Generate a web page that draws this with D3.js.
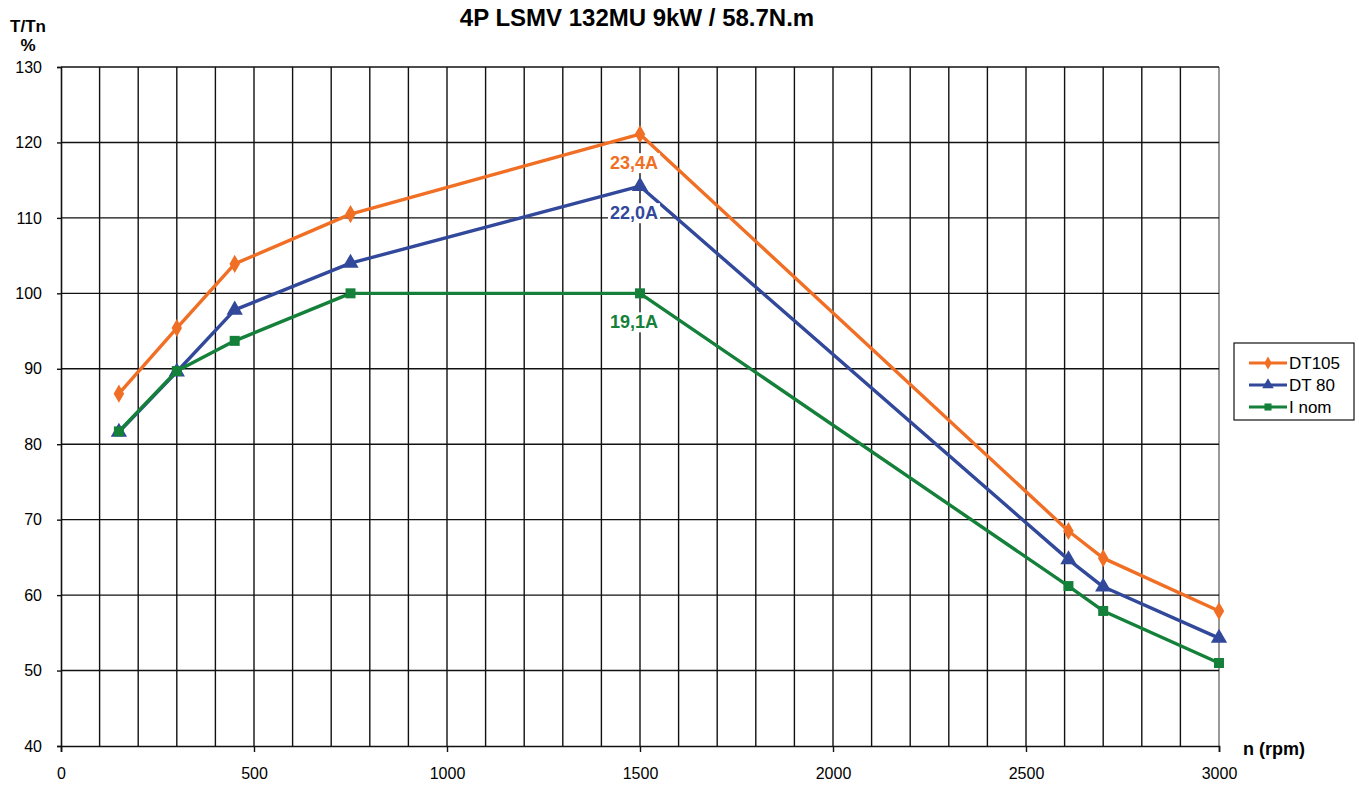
<!DOCTYPE html>
<html>
<head>
<meta charset="utf-8">
<script src="https://cdn.jsdelivr.net/npm/d3@7"></script>
<style>
  body { margin: 0; background: #fff; }
  text { font-family: "Liberation Sans", Arial, sans-serif; }
</style>
</head>
<body>
<div id="chart-area"></div>
<script>
// speeds (rpm) and torque ratios (%)
const speeds = [150, 300, 450, 750, 1500, 2610, 2700, 3000];
const dt105 = [86.7, 95.4, 103.9, 110.5, 121.1, 68.5, 64.9, 57.9];
const dt80 = [81.6, 89.6, 97.8, 104.0, 114.2, 64.7, 61.1, 54.3];
const inom = [81.7, 89.7, 93.7, 100, 100, 61.2, 57.9, 51.0];
const seriesNames = ["DT105", "DT 80", "I nom"];
const currentLabels = ["23,4A", "22,0A", "19,1A"];
const xTicks = [0, 500, 1000, 1500, 2000, 2500, 3000];
const yTicks = [40, 50, 60, 70, 80, 90, 100, 110, 120, 130];

const COLORS = ["#F06F24", "#32489B", "#14803A"];
const SYMBOLS = [d3.symbolDiamond, d3.symbolTriangle, d3.symbolSquare];
const SYM_SIZE = [95, 115, 100];

const W = 1359, H = 790;
const MARGIN = { LEFT: 61, RIGHT: 140, TOP: 67, BOTTOM: 44 };
const WIDTH = W - MARGIN.LEFT - MARGIN.RIGHT;
const HEIGHT = H - MARGIN.TOP - MARGIN.BOTTOM;

const svg = d3.select("#chart-area").append("svg")
    .attr("width", W)
    .attr("height", H);

const g = svg.append("g")
    .attr("transform", `translate(${MARGIN.LEFT}, ${MARGIN.TOP})`);

const x = d3.scaleLinear().domain([0, 3000]).range([0, WIDTH]);
const y = d3.scaleLinear().domain([40, 130]).range([HEIGHT, 0]);

// grid
g.append("g").selectAll("line")
    .data(d3.range(100, 3000, 100))
    .enter().append("line")
    .attr("x1", d => x(d)).attr("x2", d => x(d))
    .attr("y1", 0).attr("y2", HEIGHT)
    .attr("stroke", "#111").attr("stroke-width", 1.4);

g.append("line")
    .attr("x1", x(3000)).attr("x2", x(3000))
    .attr("y1", 0).attr("y2", HEIGHT)
    .attr("stroke", "#999").attr("stroke-width", 2);

g.append("g").selectAll("line")
    .data(yTicks.slice(1))
    .enter().append("line")
    .attr("x1", 0).attr("x2", WIDTH)
    .attr("y1", d => y(d)).attr("y2", d => y(d))
    .attr("stroke", "#111").attr("stroke-width", 1.4);

// axes
const xAxisCall = d3.axisBottom(x).tickValues(xTicks).tickSize(6).tickPadding(16).tickFormat(d3.format("d"));
const xAxis = g.append("g")
    .attr("transform", `translate(0, ${HEIGHT})`)
    .call(xAxisCall);
xAxis.selectAll("text").attr("font-size", "16px").attr("fill", "#000");

const yAxisCall = d3.axisLeft(y).tickValues(yTicks).tickSize(4).tickPadding(15);
const yAxis = g.append("g").call(yAxisCall);
yAxis.selectAll("text").attr("font-size", "16px").attr("fill", "#000");

[xAxis, yAxis].forEach(a => {
    a.select(".domain").attr("stroke", "#111").attr("stroke-width", 1.6);
    a.selectAll(".tick line").attr("stroke", "#111").attr("stroke-width", 1.4);
    a.attr("font-family", null);
});

// title + axis labels
svg.append("text")
    .attr("x", 637).attr("y", 26)
    .attr("text-anchor", "middle")
    .attr("font-size", "24px").attr("font-weight", "bold")
    .text("4P LSMV 132MU 9kW / 58.7N.m");

svg.append("text")
    .attr("x", 28).attr("y", 32)
    .attr("text-anchor", "middle")
    .attr("font-size", "17px").attr("font-weight", "bold")
    .text("T/Tn");
svg.append("text")
    .attr("x", 28).attr("y", 51)
    .attr("text-anchor", "middle")
    .attr("font-size", "17px").attr("font-weight", "bold")
    .text("%");

svg.append("text")
    .attr("x", 1243).attr("y", 755)
    .attr("font-size", "18px").attr("font-weight", "bold")
    .text("n (rpm)");

// series
const allSeries = [dt105, dt80, inom];
const line = d3.line().x(d => x(d[0])).y(d => y(d[1]));

allSeries.forEach((vals, i) => {
    const pts = speeds.map((s, j) => [s, vals[j]]);
    g.append("path")
        .datum(pts)
        .attr("fill", "none")
        .attr("stroke", COLORS[i])
        .attr("stroke-width", 3.4)
        .attr("stroke-linejoin", "round")
        .attr("d", line);
    g.selectAll(".m" + i)
        .data(pts)
        .enter().append("path")
        .attr("class", "m" + i)
        .attr("transform", d => `translate(${x(d[0])}, ${y(d[1])})`)
        .attr("d", d3.symbol().type(SYMBOLS[i]).size(SYM_SIZE[i]))
        .attr("fill", COLORS[i]);
});

// current labels at 1500 rpm
const labelOffsets = [35, 33, 35];
const idx1500 = speeds.indexOf(1500);
allSeries.forEach((vals, i) => {
    const lx = x(1500) - 6, ly = y(vals[idx1500]) + labelOffsets[i];
    const t = g.append("text")
        .attr("x", lx).attr("y", ly)
        .attr("text-anchor", "middle")
        .attr("font-size", "18px").attr("font-weight", "bold")
        .attr("fill", COLORS[i])
        .text(currentLabels[i]);
    const bb = t.node().getBBox();
    g.insert("rect", () => t.node())
        .attr("x", bb.x - 2).attr("y", bb.y)
        .attr("width", bb.width + 4).attr("height", bb.height)
        .attr("fill", "#fff");
});

// legend
const leg = svg.append("g").attr("transform", "translate(1234, 343)");
leg.append("rect")
    .attr("width", 120).attr("height", 77)
    .attr("fill", "#fff").attr("stroke", "#111").attr("stroke-width", 1.2);
seriesNames.forEach((name, i) => {
    const ly = 20 + i * 22;
    leg.append("line")
        .attr("x1", 15).attr("x2", 53).attr("y1", ly).attr("y2", ly)
        .attr("stroke", COLORS[i]).attr("stroke-width", 3);
    leg.append("path")
        .attr("transform", `translate(34, ${ly})`)
        .attr("d", d3.symbol().type(SYMBOLS[i]).size(SYM_SIZE[i] * 0.5))
        .attr("fill", COLORS[i]);
    leg.append("text")
        .attr("x", 55).attr("y", ly + 6)
        .attr("font-size", "17px")
        .text(name);
});
</script>
</body>
</html>
